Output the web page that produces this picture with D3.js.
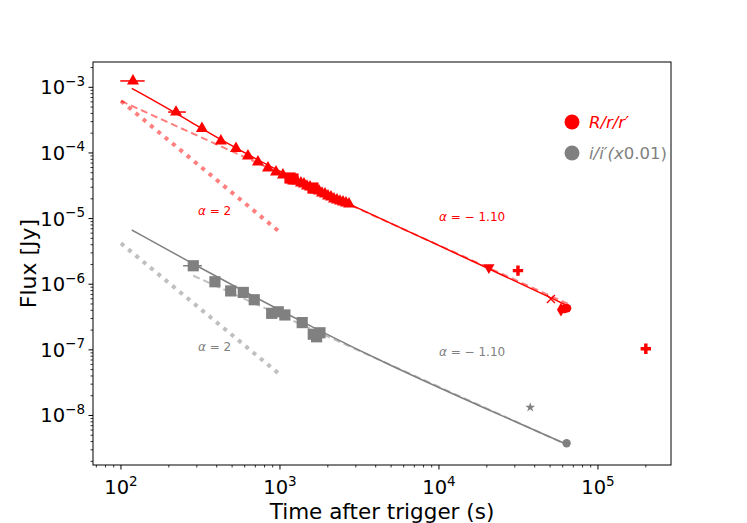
<!DOCTYPE html>
<html>
<head>
<meta charset="utf-8">
<script src="https://cdn.jsdelivr.net/npm/d3@7"></script>
<style>
  body { margin: 0; background: #fff; }
  text { font-family: "DejaVu Sans", sans-serif; }
</style>
</head>
<body>
<svg id="chart" width="747" height="523"></svg>
<script>
// red band (R/r/r') photometry
const redTime = [119, 222, 323, 425, 529, 629, 727, 841, 944, 1044, 1156, 1208, 1279, 1355, 1416, 1479, 1545,
  1613, 1684, 1760, 1838, 1920, 2005, 2094, 2187, 2284, 2385, 2491, 2601, 2717,
  20600, 31400, 50600, 58500, 61500, 64000, 200000];
const redFlux = [1.25e-3, 4.2e-4, 2.36e-4, 1.52e-4, 1.17e-4, 8.98e-5, 7.28e-5, 5.90e-5, 5.13e-5, 4.61e-5, 4.15e-5, 4.01e-5, 3.74e-5, 3.48e-5, 3.36e-5, 3.13e-5, 3.03e-5,
  2.92e-5, 2.72e-5, 2.63e-5, 2.45e-5, 2.37e-5, 2.21e-5, 2.13e-5, 1.99e-5, 1.92e-5, 1.85e-5, 1.79e-5, 1.73e-5, 1.67e-5,
  1.79e-6, 1.61e-6, 5.96e-7, 4.1e-7, 4.2e-7, 4.3e-7, 1.04e-7];
const redMarker = ["tri", "tri", "tri", "tri", "tri", "tri", "tri", "tri", "tri", "tri", "sq", "sq", "tri", "tri", "tri", "tri", "tri",
  "sq", "tri", "tri", "tri", "tri", "tri", "tri", "tri", "tri", "tri", "tri", "tri", "tri",
  "tridown", "plus", "x", "diamond", "circle", "hex", "plus"];
// horizontal error bars
const redErrLo = [99, 198, 311];
const redErrHi = [141, 256, 335];
const redErrFlux = [1.25e-3, 4.2e-4, 2.36e-4];

// i/i' band (x0.01)
const grayTime = [285, 390, 490, 588, 689, 887, 976, 1074, 1380, 1620, 1785, 1700, 37500, 63500];
const grayFlux = [1.91e-6, 1.09e-6, 7.9e-7, 7.5e-7, 5.8e-7, 3.6e-7, 3.8e-7, 3.4e-7, 2.6e-7, 1.73e-7, 1.82e-7, 1.58e-7, 1.33e-8, 3.77e-9];
const grayMarker = ["sq", "sq", "sq", "sq", "sq", "sq", "sq", "sq", "sq", "sq", "sq", "sq", "star", "hex"];
const grayErrLo = [246];
const grayErrHi = [323];
const grayErrFlux = [1.91e-6];

// fitted curves
const redFitTime = [117, 222, 425, 1044, 2757, 7596, 20300, 64800];
const redFitFlux = [9.66e-4, 4.06e-4, 1.57e-4, 4.86e-5, 1.64e-5, 5.30e-6, 1.75e-6, 4.66e-7];
const grayFitTime = [117, 284, 686, 1786, 4921, 15670, 63500];
const grayFitFlux = [6.7e-6, 2.04e-6, 6.43e-7, 1.93e-7, 5.79e-8, 1.62e-8, 3.64e-9];
// power-law guides
const redDashTime = [100, 65000];
const redDashFlux = [6.2e-4, 5.0e-7];
const redDotTime = [100, 1000];
const redDotFlux = [6.2e-4, 6.2e-6];
const grayDashTime = [285, 63500];
const grayDashFlux = [1.35e-6, 3.6e-9];
const grayDotTime = [100, 1000];
const grayDotFlux = [4.2e-6, 4.2e-8];

const xTicks = [1e2, 1e3, 1e4, 1e5];
const yTicks = [1e-8, 1e-7, 1e-6, 1e-5, 1e-4, 1e-3];

const RED = "#ff0000", GRAY = "#808080";
const mLeft = 93, mRight = 671, mTop = 62, mBottom = 465;

const svg = d3.select("#chart");
const x = d3.scaleLog().domain([66.7, 2.88e5]).range([mLeft, mRight]);
const y = d3.scaleLog().domain([1.76e-9, 2.43e-3]).range([mBottom, mTop]);

const plot = svg.append("g");
const line = d3.line().x(d => x(d[0])).y(d => y(d[1]));
const smooth = d3.line().x(d => x(d[0])).y(d => y(d[1])).curve(d3.curveBasis);

function pairs(t, f) { return t.map((v, i) => [v, f[i]]); }

// guide lines
plot.append("path").attr("d", line(pairs(redDotTime, redDotFlux)))
  .attr("fill", "none").attr("stroke", RED).attr("stroke-opacity", 0.5)
  .attr("stroke-width", 4).attr("stroke-dasharray", "4,5.5");
plot.append("path").attr("d", line(pairs(grayDotTime, grayDotFlux)))
  .attr("fill", "none").attr("stroke", GRAY).attr("stroke-opacity", 0.5)
  .attr("stroke-width", 4).attr("stroke-dasharray", "4,5.5");
plot.append("path").attr("d", line(pairs(redDashTime, redDashFlux)))
  .attr("fill", "none").attr("stroke", RED).attr("stroke-opacity", 0.5)
  .attr("stroke-width", 2).attr("stroke-dasharray", "7,4");
plot.append("path").attr("d", line(pairs(grayDashTime, grayDashFlux)))
  .attr("fill", "none").attr("stroke", GRAY).attr("stroke-opacity", 0.5)
  .attr("stroke-width", 2).attr("stroke-dasharray", "7,4");

// fits
plot.append("path").attr("d", smooth(pairs(redFitTime, redFitFlux)))
  .attr("fill", "none").attr("stroke", RED).attr("stroke-width", 1.5);
plot.append("path").attr("d", smooth(pairs(grayFitTime, grayFitFlux)))
  .attr("fill", "none").attr("stroke", GRAY).attr("stroke-width", 1.5);

// error bars
function errBars(lo, hi, f, color) {
  lo.forEach((v, i) => {
    plot.append("line")
      .attr("x1", x(v)).attr("x2", x(hi[i]))
      .attr("y1", y(f[i])).attr("y2", y(f[i]))
      .attr("stroke", color).attr("stroke-width", 1.5);
  });
}
errBars(redErrLo, redErrHi, redErrFlux, RED);
errBars(grayErrLo, grayErrHi, grayErrFlux, GRAY);

// markers
const shapes = {
  tri: [d3.symbolTriangle, 62, 0],
  tridown: [d3.symbolTriangle, 55, 180],
  sq: [d3.symbolSquare, 125, 0],
  plus: [d3.symbolCross, 60, 0],
  diamond: [d3.symbolDiamond, 55, 0],
  circle: [d3.symbolCircle, 60, 0],
  hex: [d3.symbolCircle, 55, 0],
  star: [d3.symbolStar, 30, 0]
};
function drawMarkers(t, f, m, color) {
  t.forEach((v, i) => {
    const px = x(v), py = y(f[i]);
    if (m[i] === "x") {
      plot.append("path")
        .attr("d", `M${px - 4},${py - 4}L${px + 4},${py + 4}M${px - 4},${py + 4}L${px + 4},${py - 4}`)
        .attr("stroke", color).attr("stroke-width", 1.3);
      return;
    }
    const s = shapes[m[i]];
    plot.append("path")
      .attr("d", d3.symbol().type(s[0]).size(s[1])())
      .attr("transform", `translate(${px},${py}) rotate(${s[2]})`)
      .attr("fill", color);
  });
}
drawMarkers(redTime, redFlux, redMarker, RED);
drawMarkers(grayTime, grayFlux, grayMarker, GRAY);

// slope annotations
function alphaLabel(t, f, val, color) {
  const tx = plot.append("text").attr("x", x(t)).attr("y", y(f))
    .attr("fill", color).attr("font-size", 12);
  tx.append("tspan").attr("font-style", "italic").text("α");
  tx.append("tspan").text(" = " + val);
}
alphaLabel(305, 1.13e-5, "2", RED);
alphaLabel(1.0e4, 9.2e-6, "− 1.10", RED);
alphaLabel(305, 9.6e-8, "2", GRAY);
alphaLabel(1.0e4, 8.0e-8, "− 1.10", GRAY);

// frame
svg.append("rect").attr("x", mLeft).attr("y", mTop)
  .attr("width", mRight - mLeft).attr("height", mBottom - mTop)
  .attr("fill", "none").attr("stroke", "black").attr("stroke-width", 1);

// x ticks
const xMinor = [];
for (let e = 1; e <= 5; e++) for (let k = 2; k <= 9; k++) {
  const v = k * Math.pow(10, e);
  if (v > x.domain()[0] && v < x.domain()[1]) xMinor.push(v);
}
xMinor.forEach(v => {
  svg.append("line").attr("x1", x(v)).attr("x2", x(v))
    .attr("y1", mBottom).attr("y2", mBottom + 2.5).attr("stroke", "black").attr("stroke-width", 0.8);
});
xTicks.forEach(v => {
  svg.append("line").attr("x1", x(v)).attr("x2", x(v))
    .attr("y1", mBottom).attr("y2", mBottom + 4.5).attr("stroke", "black").attr("stroke-width", 1);
  const t = svg.append("text").attr("x", x(v)).attr("y", 494)
    .attr("text-anchor", "middle").attr("font-size", 19.5);
  t.append("tspan").text("10");
  t.append("tspan").attr("dy", -8.5).attr("font-size", 13.5).text(Math.round(Math.log10(v)));
});

// y ticks
const yMinor = [];
for (let e = -9; e <= -3; e++) for (let k = 2; k <= 9; k++) {
  const v = k * Math.pow(10, e);
  if (v > y.domain()[0] && v < y.domain()[1]) yMinor.push(v);
}
yMinor.forEach(v => {
  svg.append("line").attr("x1", mLeft - 2.5).attr("x2", mLeft)
    .attr("y1", y(v)).attr("y2", y(v)).attr("stroke", "black").attr("stroke-width", 0.8);
});
yTicks.forEach(v => {
  svg.append("line").attr("x1", mLeft - 4.5).attr("x2", mLeft)
    .attr("y1", y(v)).attr("y2", y(v)).attr("stroke", "black").attr("stroke-width", 1);
  const t = svg.append("text").attr("x", mLeft - 8).attr("y", y(v) + 7)
    .attr("text-anchor", "end").attr("font-size", 19.5);
  t.append("tspan").text("10");
  t.append("tspan").attr("dy", -8.5).attr("font-size", 13.5).text("−" + Math.round(-Math.log10(v)));
});

// axis titles
svg.append("text").attr("x", (mLeft + mRight) / 2).attr("y", 518.5)
  .attr("text-anchor", "middle").attr("font-size", 21.5).text("Time after trigger (s)");
svg.append("text").attr("transform", `translate(36,${(mTop + mBottom) / 2}) rotate(-90)`)
  .attr("text-anchor", "middle").attr("font-size", 22).text("Flux [Jy]");

// legend
const legend = svg.append("g");
const legendItems = [[RED, "R/r/r′", 122], [GRAY, "i/i′(x0.01)", 153]];
legendItems.forEach(d => {
  legend.append("circle").attr("cx", 572).attr("cy", d[2]).attr("r", 7.5).attr("fill", d[0]);
  const t = legend.append("text").attr("x", 589).attr("y", d[2] + 6)
    .attr("fill", d[0]).attr("font-size", 16.5);
  if (d[1].startsWith("i")) {
    t.append("tspan").attr("font-style", "italic").text("i/i′(x");
    t.append("tspan").text("0.01)");
  } else {
    t.append("tspan").attr("font-style", "italic").text(d[1]);
  }
});
</script>
</body>
</html>
